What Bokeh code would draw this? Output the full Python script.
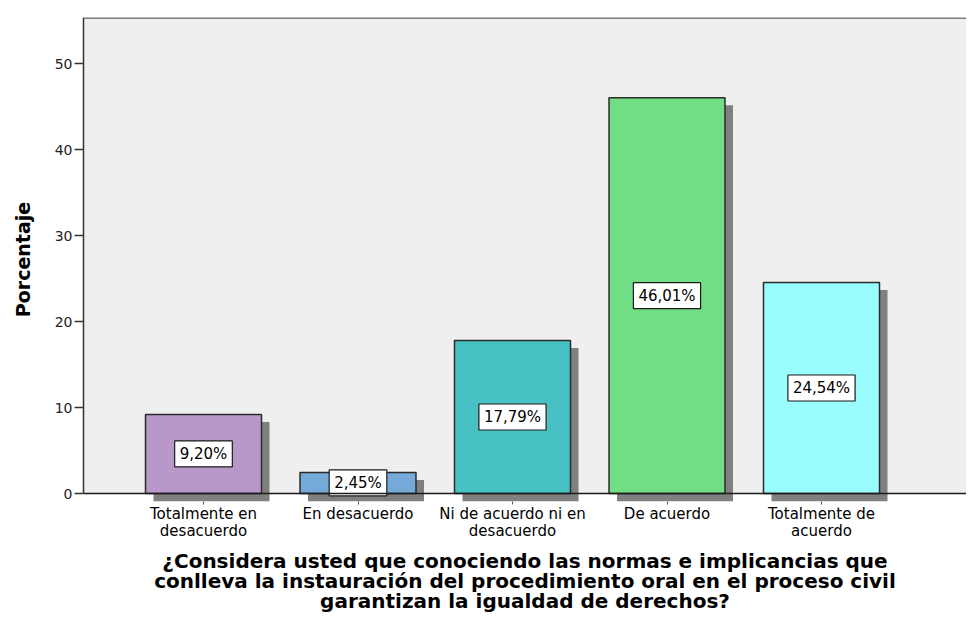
from bokeh.plotting import figure
from bokeh.models import Range1d, BoxAnnotation, Span, FixedTicker, ColumnDataSource
from bokeh.core.properties import value
from bokeh.embed import file_html
from bokeh.resources import INLINE

categories = ["Totalmente en\ndesacuerdo", "En desacuerdo", "Ni de acuerdo ni en\ndesacuerdo",
              "De acuerdo", "Totalmente de\nacuerdo"]
percent = [9.20, 2.45, 17.79, 46.01, 24.54]
labels = ["9,20%", "2,45%", "17,79%", "46,01%", "24,54%"]
colors = ["#B898CB", "#74A9D8", "#48C1C4", "#71DD84", "#99FDFD"]
y_ticks = [0, 10, 20, 30, 40, 50]
x_title = "¿Considera usted que conociendo las normas e implicancias que\nconlleva la instauración del procedimiento oral en el proceso civil\ngarantizan la igualdad de derechos?"
y_title = "Porcentaje"

FONT = "DejaVu Sans"
xs = list(range(1, len(percent) + 1))

px_per_x = 154.5
px_per_y = 8.6
x0 = 1 - 120 / px_per_x
x1 = x0 + 883 / px_per_x
y_top = 476 / px_per_y
y_bot = -8 / px_per_y
dx = 8 / px_per_x
dy = 7.5 / px_per_y
bar_w = 116 / px_per_x

p = figure(frame_width=883, frame_height=484,
           x_range=Range1d(x0, x1), y_range=Range1d(y_bot, y_top),
           output_backend="svg", toolbar_location=None,
           min_border_left=83, min_border_top=17, min_border_right=0, min_border_bottom=95)
p.background_fill_color = "white"
p.border_fill_color = "white"
p.outline_line_color = None
p.xgrid.visible = False
p.ygrid.visible = False

p.add_layout(BoxAnnotation(bottom=0, fill_color="#EFEFEF", fill_alpha=1, line_color=None, level="underlay"))
p.add_layout(Span(location=y_top, dimension="width", line_color="#808080", line_width=3))

src = ColumnDataSource(dict(
    x=xs, top=percent, color=colors, label=labels,
    sx=[x + dx for x in xs], stop=[v - dy for v in percent],
    ly=[v / 2 for v in percent],
))

p.vbar(x="sx", top="stop", bottom=y_bot, width=bar_w, source=src, fill_color="#808080", line_color=None)
p.vbar(x="x", top="top", bottom=0, width=bar_w, source=src, fill_color="color",
       line_color="#2b2b2b", line_width=1.5)
p.add_layout(Span(location=0, dimension="width", line_color="#1a1a1a", line_width=1.5))

p.text(x="x", y="ly", text="label", source=src, text_align="center", text_baseline="middle",
       text_font=value(FONT), text_font_size="15px", text_color="black",
       background_fill_color="white", border_line_color="#1a1a1a", border_line_width=1.2,
       padding=dict(left=5, right=5, top=4, bottom=4))

# y axis
ya = p.yaxis[0]
ya.ticker = FixedTicker(ticks=y_ticks)
ya.bounds = (0, y_top)
ya.axis_line_color = "#333333"
ya.axis_line_width = 1.5
ya.major_tick_out = 9
ya.major_tick_in = 0
ya.major_tick_line_color = "#333333"
ya.major_tick_line_width = 1.5
ya.minor_tick_line_color = None
ya.major_label_text_font = FONT
ya.major_label_text_font_size = "14px"
ya.major_label_text_color = "#222222"
ya.major_label_standoff = 2
ya.axis_label = y_title
ya.axis_label_text_font = FONT
ya.axis_label_text_font_style = "bold"
ya.axis_label_text_font_size = "19px"
ya.axis_label_text_color = "black"
ya.axis_label_standoff = 18

# x axis
xa = p.xaxis[0]
xa.ticker = FixedTicker(ticks=xs)
xa.major_label_overrides = {x: c for x, c in zip(xs, categories)}
xa.axis_line_color = None
xa.major_tick_out = 3
xa.major_tick_in = 0
xa.major_tick_line_color = "#555555"
xa.minor_tick_line_color = None
xa.major_label_text_font = FONT
xa.major_label_text_font_size = "15px"
xa.major_label_text_color = "black"
xa.major_label_text_line_height = 0.95
xa.major_label_standoff = 0
xa.axis_label = x_title
xa.axis_label_text_font = FONT
xa.axis_label_text_font_style = "bold"
xa.axis_label_text_font_size = "20px"
xa.axis_label_text_color = "black"
xa.axis_label_text_line_height = 0.85
xa.axis_label_standoff = 6

open("out.html", "w").write(file_html(p, INLINE))
